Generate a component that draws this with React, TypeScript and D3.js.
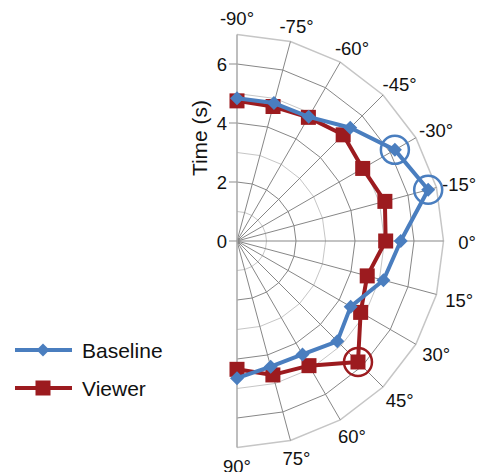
import React from 'react';
import * as d3 from 'd3';

const angles = [-90, -75, -60, -45, -30, -15, 0, 15, 30, 45, 60, 75, 90];
const baseline = [4.84, 4.84, 4.86, 5.43, 6.18, 6.71, 5.55, 5.14, 4.45, 4.81, 4.44, 4.41, 4.65];
const viewer = [4.75, 4.72, 4.84, 5.09, 4.92, 5.19, 5.04, 4.57, 4.84, 5.8, 4.88, 4.7, 4.35];
const ringValues = [1, 2, 3, 4, 5, 6, 7];
const tickValues = [0, 2, 4, 6];
const seriesNames = ['Baseline', 'Viewer'];
const highlightBaseline = [-30, -15];
const highlightViewer = [45];

const W = 477;
const H = 472;
const cx = 237;
const cy = 241;
const R = 206.5;
const BLUE = '#4a7ebf';
const RED = '#9c1b1f';
const FONT = '"Liberation Sans", Arial, sans-serif';

const r = d3.scaleLinear().domain([0, 7]).range([0, R]);
const toRad = (a: number) => (a * Math.PI) / 180;
const pt = (a: number, v: number): [number, number] => [
  cx + r(v) * Math.cos(toRad(a)),
  cy + r(v) * Math.sin(toRad(a)),
];
const line = d3.line<[number, number]>();

function diamondPath(x: number, y: number, s = 7) {
  return `M${x},${y - s}L${x + s},${y}L${x},${y + s}L${x - s},${y}Z`;
}

export default function App() {
  const blue = angles.map((a, i) => pt(a, baseline[i]));
  const red = angles.map((a, i) => pt(a, viewer[i]));
  return (
    <svg width={W} height={H} style={{ position: 'absolute', left: 0, top: 0, background: '#fff' }}>
      {ringValues.map((v) => (
        <path
          key={'ring' + v}
          d={line(angles.map((a) => pt(a, v))) || ''}
          fill="none"
          stroke={v % 2 === 0 ? '#878787' : '#c6c6c6'}
          strokeWidth={v === 7 ? 1.5 : 1}
        />
      ))}
      {angles
        .filter((a) => Math.abs(a) !== 90)
        .map((a) => (
          <path key={'sp' + a} d={line([pt(a, 0), pt(a, 7)]) || ''} stroke="#878787" strokeWidth={1} />
        ))}
      <line x1={cx} x2={cx} y1={cy - R} y2={cy + R} stroke="#a8a8a8" strokeWidth={1.5} />
      {tickValues.map((t) => (
        <g key={'t' + t}>
          <line x1={cx - 8} x2={cx} y1={cy - r(t)} y2={cy - r(t)} stroke="#a0a0a0" strokeWidth={1.2} />
          <text
            x={cx - 10}
            y={cy - r(t)}
            textAnchor="end"
            dominantBaseline="central"
            fontFamily={FONT}
            fontSize={18.5}
            fill="#111"
          >
            {t}
          </text>
        </g>
      ))}
      <text
        transform={`translate(199,138) rotate(-90)`}
        textAnchor="middle"
        dominantBaseline="central"
        fontFamily={FONT}
        fontSize={21}
        fill="#111"
      >
        Time (s)
      </text>
      {angles.map((a) => {
        const c = Math.cos(toRad(a));
        const s = Math.sin(toRad(a));
        const x = cx + (R + 6.5) * c + 17 * c;
        const y = cy + 1.5 + (R + 6.5) * s + 11 * s;
        return (
          <text
            key={'al' + a}
            x={x}
            y={y}
            textAnchor="middle"
            dominantBaseline="central"
            fontFamily={FONT}
            fontSize={18.5}
            fill="#111"
          >
            {`${a}°`}
          </text>
        );
      })}
      <path d={line(red) || ''} fill="none" stroke={RED} strokeWidth={4} strokeLinejoin="round" />
      {red.map(([x, y], i) => (
        <rect key={'rs' + i} x={x - 7.5} y={y - 7.5} width={15} height={15} fill={RED} />
      ))}
      <path d={line(blue) || ''} fill="none" stroke={BLUE} strokeWidth={4} strokeLinejoin="round" />
      {blue.map(([x, y], i) => (
        <path key={'bd' + i} d={diamondPath(x, y)} fill={BLUE} />
      ))}
      {highlightBaseline.map((a) => {
        const [x, y] = pt(a, baseline[angles.indexOf(a)]);
        return <circle key={'hb' + a} cx={x} cy={y} r={14} fill="none" stroke={BLUE} strokeWidth={2.5} />;
      })}
      {highlightViewer.map((a) => {
        const [x, y] = pt(a, viewer[angles.indexOf(a)]);
        return <circle key={'hv' + a} cx={x} cy={y} r={14} fill="none" stroke={RED} strokeWidth={2.5} />;
      })}
      {seriesNames.map((n, i) => {
        const y = 350 + i * 38;
        const col = i === 0 ? BLUE : RED;
        return (
          <g key={'lg' + n}>
            <line x1={15} x2={72} y1={y} y2={y} stroke={col} strokeWidth={4} />
            {i === 0 ? (
              <path d={diamondPath(43, y, 6.5)} fill={col} />
            ) : (
              <rect x={43 - 7.5} y={y - 7.5} width={15} height={15} fill={col} />
            )}
            <text x={82} y={y} dominantBaseline="central" fontFamily={FONT} fontSize={21} fill="#111">
              {n}
            </text>
          </g>
        );
      })}
    </svg>
  );
}
